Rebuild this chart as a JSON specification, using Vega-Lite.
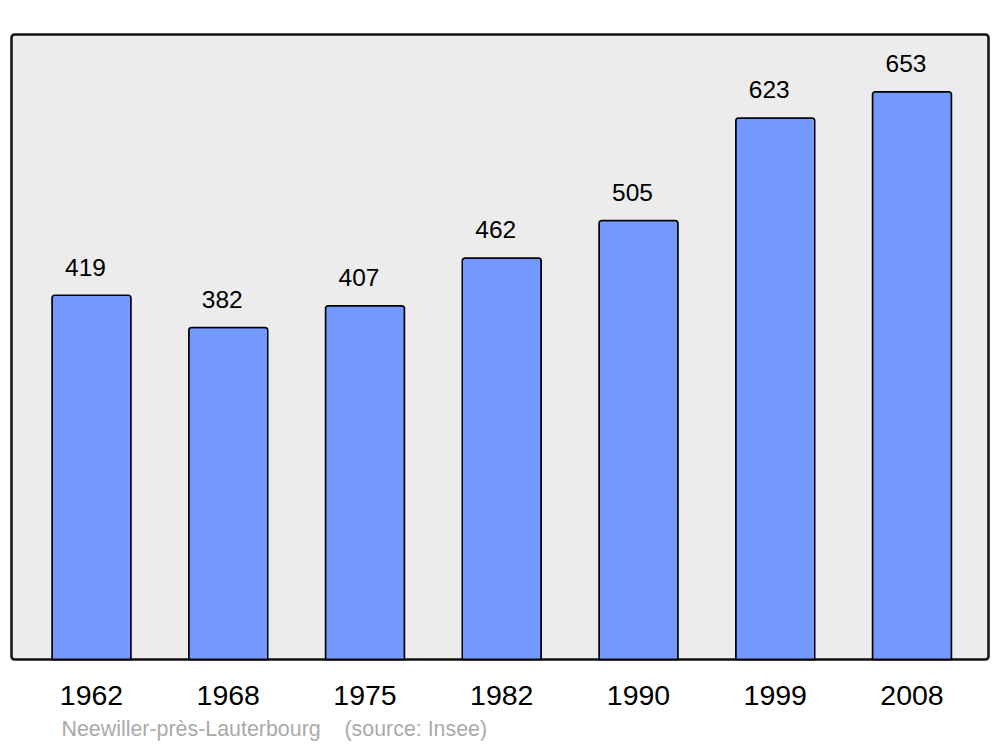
{
  "$schema": "https://vega.github.io/schema/vega-lite/v6.json",
  "width": 977,
  "height": 625,
  "autosize": {"type": "none"},
  "padding": {"left": 11.5, "top": 34.5, "right": 11.5, "bottom": 87.5},
  "background": "white",
  "title": {
    "text": "Neewiller-près-Lauterbourg\u00a0\u00a0\u00a0\u00a0(source: Insee)",
    "orient": "bottom",
    "anchor": "start",
    "frame": "group",
    "dx": 50,
    "offset": 26,
    "baseline": "alphabetic",
    "font": "Liberation Sans",
    "fontSize": 21.4,
    "fontWeight": "normal",
    "color": "#aaaaaa"
  },
  "config": {
    "font": "Liberation Sans",
    "view": {"fill": "#ececec", "stroke": "#111111", "strokeWidth": 2.5, "cornerRadius": 3}
  },
  "data": {
    "values": [
      {"year": "1962", "population": 419},
      {"year": "1968", "population": 382},
      {"year": "1975", "population": 407},
      {"year": "1982", "population": 462},
      {"year": "1990", "population": 505},
      {"year": "1999", "population": 623},
      {"year": "2008", "population": 653}
    ]
  },
  "encoding": {
    "x": {
      "field": "year",
      "type": "ordinal",
      "sort": null,
      "scale": {"paddingInner": 0.4223, "paddingOuter": 0.2834, "align": 0.5226},
      "axis": {
        "title": null,
        "domain": false,
        "ticks": false,
        "grid": false,
        "labelAngle": 0,
        "labelFont": "Liberation Sans",
        "labelFontSize": 28.5,
        "labelColor": "#000000",
        "labelBaseline": "alphabetic",
        "labelPadding": 45
      }
    },
    "y": {
      "field": "population",
      "type": "quantitative",
      "scale": {"domain": [0, 719], "nice": false, "zero": true},
      "axis": null
    }
  },
  "layer": [
    {
      "mark": {"type": "bar", "fill": "#7399ff", "stroke": "#000000", "strokeWidth": 1.5, "cornerRadiusTopLeft": 3, "cornerRadiusTopRight": 3}
    },
    {
      "mark": {"type": "text", "baseline": "alphabetic", "align": "center", "dy": -19.5, "dx": -6, "fontSize": 24.5, "font": "Liberation Sans", "color": "#000000"},
      "encoding": {"text": {"field": "population", "type": "quantitative"}}
    }
  ]
}
